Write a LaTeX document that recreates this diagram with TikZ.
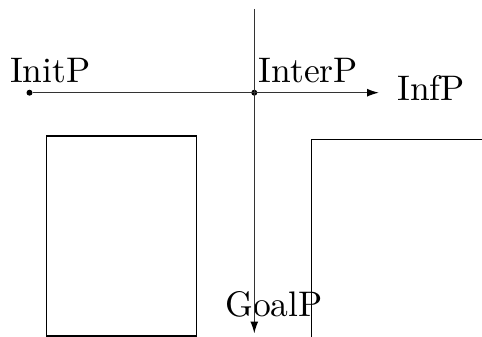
\documentclass[tikz,border=0pt]{standalone}
\usetikzlibrary{arrows.meta}
\begin{document}
\begin{tikzpicture}[x=1pt,y=-1pt,
  line/.style={line width=1.4pt,black!80},
  lbl/.style={inner sep=0pt,anchor=base west,scale=3.55},
  pt/.style={circle,fill=black,inner sep=0pt,minimum size=6pt},
  tip/.style={-{Latex[length=12pt,width=8pt,color=black]}}]
\useasboundingbox (0,0) rectangle (482,337);
% points of the path
\node[pt] (init) at (29.5,92.7) {};
\node[pt] (inter) at (254.3,92.7) {};
\coordinate (inf) at (379,92.7);
\coordinate (top) at (254.3,9);
\coordinate (goal) at (254.3,333.5);
% labels
\node[lbl] (initL) at (9.3,82.5) {InitP};
\node[lbl] (interL) at (258,82.5) {InterP};
\node[lbl] (infL) at (396.7,100.5) {InfP};
\node[lbl] (goalL) at (224.5,316.5) {GoalP};
% paths
\draw[line,tip] (init) -- (inter.center) -- (inf);
\draw[line,tip] (top) -- (goal);
% obstacles
\draw[line,black] (46.7,136) rectangle (196.3,336);
\draw[line,black] (311.7,337) -- (311.7,139.7) -- (482,139.7);
\end{tikzpicture}
\end{document}
